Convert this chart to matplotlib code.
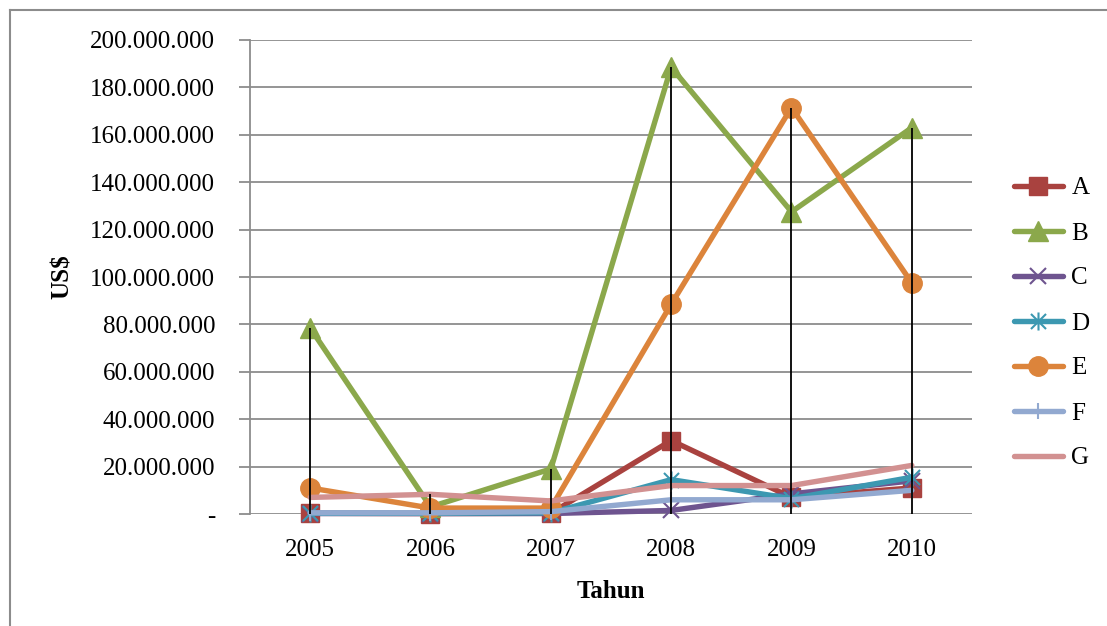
import matplotlib
matplotlib.use("Agg")
import matplotlib.pyplot as plt
import numpy as np
from matplotlib.path import Path
from matplotlib.ticker import FuncFormatter, MultipleLocator
from matplotlib.lines import Line2D

plt.rcParams['font.family'] = ['Liberation Serif', 'DejaVu Serif']

years = ['2005', '2006', '2007', '2008', '2009', '2010']
series_names = ['A', 'B', 'C', 'D', 'E', 'F', 'G']

A = [0.3e6, 0.2e6, 0.3e6, 31.0e6, 7.0e6, 11.0e6]
B = [78.5e6, 3.0e6, 19.0e6, 188.5e6, 127.5e6, 163.0e6]
C = [0.2e6, 0.2e6, 0.2e6, 1.5e6, 8.5e6, 14.0e6]
D = [0.3e6, 0.3e6, 0.5e6, 14.5e6, 6.5e6, 15.5e6]
E = [11.0e6, 2.5e6, 2.5e6, 88.5e6, 171.5e6, 97.5e6]
F = [0.5e6, 0.5e6, 1.0e6, 6.0e6, 6.0e6, 10.0e6]
G = [7.0e6, 8.3e6, 5.5e6, 12.0e6, 12.0e6, 20.5e6]

colors = {
    'A': '#A9423F', 'B': '#8BA84B', 'C': '#6E548F', 'D': '#3C98B1',
    'E': '#DC843B', 'F': '#92A9D0', 'G': '#D29191',
}

# asterisk-like star: an X with a vertical stroke
star = Path([(-1, -1), (1, 1), (-1, 1), (1, -1), (0, -1.2), (0, 1.2)],
            [Path.MOVETO, Path.LINETO, Path.MOVETO, Path.LINETO, Path.MOVETO, Path.LINETO])

styles = {
    'A': dict(marker='s', markersize=13),
    'B': dict(marker='^', markersize=15),
    'C': dict(marker='x', markersize=12, markeredgewidth=1.5),
    'D': dict(marker=star, markersize=13, markeredgewidth=1.5),
    'E': dict(marker='o', markersize=14),
    'F': dict(marker='|', markersize=12, markeredgewidth=1.5),
    'G': dict(marker='None'),
}

data = {'A': A, 'B': B, 'C': C, 'D': D, 'E': E, 'F': F, 'G': G}

fig = plt.figure(figsize=(11.07, 6.26), dpi=100)
ax = fig.add_axes([250 / 1107, 1 - 514 / 626, 722 / 1107, 474 / 626])

x = np.arange(len(years))
handles = []
for name in series_names:
    st = styles[name]
    (ln,) = ax.plot(x, data[name], color=colors[name], lw=3.9,
                    markeredgecolor=colors[name], markerfacecolor=colors[name],
                    solid_capstyle='round', zorder=3, clip_on=False, **st)
    handles.append(ln)

# drop lines from the highest value at each year down to the axis
tops = np.max(np.vstack([data[n] for n in series_names]), axis=0)
ax.vlines(x, 0, tops, colors='black', lw=1.3, zorder=5)

ax.set_xlim(-0.5, len(years) - 0.5)
ax.set_ylim(0, 200e6)
ax.yaxis.set_major_locator(MultipleLocator(20e6))


def fmt(v, pos):
    if abs(v) < 1:
        return '-'
    return f'{int(round(v)):,}'.replace(',', '.')


ax.yaxis.set_major_formatter(FuncFormatter(fmt))
ax.set_xticks(x)
ax.set_xticklabels(years)
ax.grid(axis='y', color='#8c8c8c', lw=1.3, zorder=0)
ax.set_axisbelow(True)
for side in ['top', 'right', 'bottom']:
    ax.spines[side].set_visible(False)
ax.spines['left'].set_color('#8c8c8c')
ax.spines['left'].set_linewidth(1.3)
ax.tick_params(axis='y', direction='out', length=8, width=1.3, color='#8c8c8c',
               labelsize=18, pad=17)
ax.tick_params(axis='x', length=0, labelsize=18, pad=18)
ax.set_ylabel('US$', fontsize=18, fontweight='bold', labelpad=12)
ax.set_xlabel('Tahun', fontsize=18, fontweight='bold', labelpad=14)

fig.legend(handles, series_names, loc='upper left',
           bbox_to_anchor=(1004 / 1107, 1 - 167 / 626), frameon=False,
           fontsize=18, handlelength=1.95, handletextpad=0.35,
           labelspacing=0.9, borderaxespad=0)

# outer chart frame
fig.add_artist(Line2D([9.5 / 1107, 9.5 / 1107], [0, 1 - 10 / 626], color='#8c8c8c', lw=1.5,
                      transform=fig.transFigure))
fig.add_artist(Line2D([9.5 / 1107, 1], [1 - 10 / 626, 1 - 10 / 626], color='#8c8c8c', lw=1.5,
                      transform=fig.transFigure))

fig.savefig('out.png', dpi=100)
